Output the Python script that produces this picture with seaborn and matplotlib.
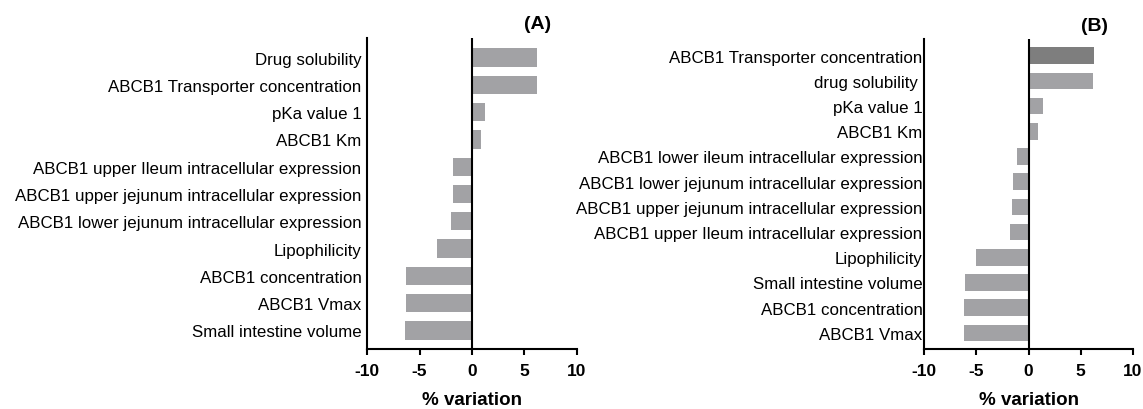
import matplotlib
matplotlib.use("Agg")
import matplotlib.pyplot as plt
import seaborn as sns
import pandas as pd

# Panel A: sensitivity of output to each parameter (% variation)
params_a = [
    "Drug solubility",
    "ABCB1 Transporter concentration",
    "pKa value 1",
    "ABCB1 Km",
    "ABCB1 upper Ileum intracellular expression",
    "ABCB1 upper jejunum intracellular expression",
    "ABCB1 lower jejunum intracellular expression",
    "Lipophilicity",
    "ABCB1 concentration",
    "ABCB1 Vmax",
    "Small intestine volume",
]
values_a = [6.2, 6.2, 1.2, 0.85, -1.8, -1.8, -2.0, -3.35, -6.3, -6.3, -6.35]

# Panel B
params_b = [
    "ABCB1 Transporter concentration",
    "drug solubility ",
    "pKa value 1",
    "ABCB1 Km",
    "ABCB1 lower ileum intracellular expression",
    "ABCB1 lower jejunum intracellular expression",
    "ABCB1 upper jejunum intracellular expression",
    "ABCB1 upper Ileum intracellular expression",
    "Lipophilicity",
    "Small intestine volume",
    "ABCB1 concentration",
    "ABCB1 Vmax",
]
values_b = [6.25, 6.15, 1.35, 0.95, -1.1, -1.5, -1.55, -1.8, -5.0, -6.1, -6.15, -6.15]

x_ticks = [-10, -5, 0, 5, 10]

sns.set_theme(style="ticks")
plt.rcParams["font.family"] = ["Liberation Sans", "DejaVu Sans"]
plt.rcParams["text.color"] = "black"
plt.rcParams["xtick.color"] = "black"
plt.rcParams["ytick.color"] = "black"
plt.rcParams["axes.labelcolor"] = "black"

LIGHT = "#a2a2a5"
DARK = "#7e7e7e"

fig = plt.figure(figsize=(11.43, 4.10), dpi=100)
ax_a = fig.add_axes([0.3211, 0.1463, 0.1837, 0.7586])
ax_b = fig.add_axes([0.8084, 0.1463, 0.1829, 0.7561])


def draw_panel(ax, params, values, colors, width, ylim, tag, pad):
    df = pd.DataFrame({"param": params, "value": values})
    sns.barplot(data=df, x="value", y="param", hue="param", palette=colors,
                orient="h", width=width, legend=False, ax=ax,
                saturation=1, edgecolor="none")
    ax.set_xlim(-10, 10)
    ax.set_ylim(*ylim)
    ax.set_xticks(x_ticks)
    ax.set_xticklabels([str(t) for t in x_ticks], fontweight="bold", fontsize=12.5)
    ax.axvline(0, color="black", linewidth=1.5, zorder=3)
    for side in ("top", "right"):
        ax.spines[side].set_visible(False)
    for side in ("left", "bottom"):
        ax.spines[side].set_color("black")
        ax.spines[side].set_linewidth(1.5)
    ax.tick_params(axis="x", length=4.5, width=1.5, color="black", pad=5.5)
    ax.tick_params(axis="y", length=0, pad=pad, labelsize=12.2)
    ax.set_ylabel("")
    ax.set_xlabel("% variation", fontweight="bold", fontsize=13.5, labelpad=9.5)
    ax.text(0.814, 1.045, tag, transform=ax.transAxes, ha="center",
            va="center", fontweight="bold", fontsize=14)


draw_panel(ax_a, params_a, values_a, [LIGHT] * len(params_a), 0.67,
           (10.68, -0.72), "(A)", 4)
draw_panel(ax_b, params_b, values_b, [DARK] + [LIGHT] * (len(params_b) - 1),
           0.66, (11.64, -0.66), "(B)", 1)

fig.savefig("out.png", dpi=100)
